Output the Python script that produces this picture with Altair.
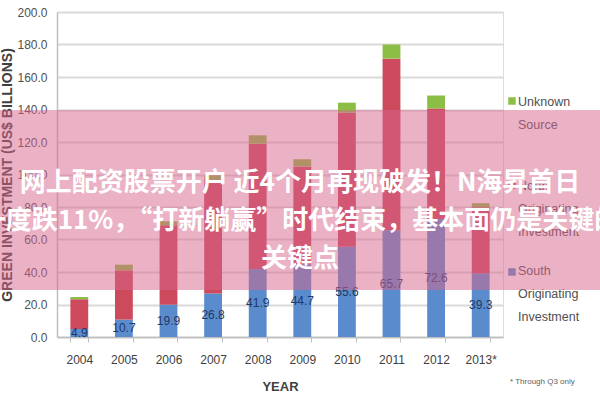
import altair as alt
import pandas as pd

years = ["2004", "2005", "2006", "2007", "2008", "2009", "2010", "2011", "2012", "2013*"]
south = [4.9, 10.7, 19.9, 26.8, 41.9, 44.7, 55.6, 65.7, 72.6, 39.3]
north = [18.3, 30.3, 48.8, 69.7, 77.1, 60.3, 82.4, 105.6, 68.0, 40.5]
unknown = [1.4, 3.5, 2.5, 3.0, 5.1, 4.4, 6.2, 8.7, 8.0, 2.5]

series = ["South Originating Investment", "North Originating Investment", "Unknown Source"]
colors = ["#5a8ccd", "#cc4a5c", "#8cbe46"]

y_ticks = [0, 20, 40, 60, 80, 100, 120, 140, 160, 180, 200]

banner_lines = [
    "网上配资股票开户 近4个月再现破发！N海昇首日",
    "一度跌11%，“打新躺赢”时代结束，基本面仍是关键的",
    "关键点",
]
footnote = "* Through Q3 only"

rows = []
for i, yr in enumerate(years):
    for k, (name, vals) in enumerate(zip(series, [south, north, unknown])):
        rows.append({"year": yr, "series": name, "value": vals[i], "ord": k})
df = pd.DataFrame(rows)
lab_df = pd.DataFrame({"year": years, "south": south})

FONT = "Liberation Sans"
W, H = 446, 325
PL, PT = 57, 12

xaxis = alt.Axis(
    title="YEAR", labelAngle=0, labelFont=FONT, labelFontSize=12,
    labelColor="#404040", labelPadding=12, tickBand="extent", tickSize=5,
    tickColor="#bfbfbf", domainColor="#bfbfbf", domainWidth=1.5,
    titleFont=FONT, titleFontSize=13, titleFontWeight="bold",
    titleColor="#404040", titleY=49, titleBaseline="middle",
)
yaxis = alt.Axis(
    title="GREEN INVESTMENT (US$ BILLIONS)", values=y_ticks, tickCount=20, format=".1f",
    labelFont=FONT, labelFontSize=12, labelColor="#505050", labelPadding=10,
    labelOverlap=False, ticks=False, gridColor="#d9d9d9", gridWidth=2,
    domainColor="#bfbfbf", domainWidth=1.5, titleFont=FONT, titleFontSize=14,
    titleFontWeight="bold", titleColor="#404040", titleX=-43,
)
xscale = alt.Scale(paddingInner=0.6, paddingOuter=0.3)
yscale = alt.Scale(domain=[0, 200], nice=False)

bars = alt.Chart(df).mark_bar().encode(
    x=alt.X("year:N", sort=years, scale=xscale, axis=xaxis),
    y=alt.Y("value:Q", stack="zero", scale=yscale, axis=yaxis),
    color=alt.Color("series:N", scale=alt.Scale(domain=series, range=colors), legend=None),
    order=alt.Order("ord:Q"),
)

labels = alt.Chart(lab_df).transform_calculate(mid="datum.south / 2").mark_text(
    font=FONT, fontSize=12, color="#1f3864", baseline="middle"
).encode(
    x=alt.X("year:N", sort=years, scale=xscale, axis=xaxis),
    y=alt.Y("mid:Q", scale=yscale, axis=yaxis),
    text=alt.Text("south:Q", format=".1f"),
)

one = pd.DataFrame({"a": [0]})


def txt(text, x, y, **kw):
    return alt.Chart(one).mark_text(**kw).encode(
        x=alt.value(x), y=alt.value(y), text=alt.value(text)
    )


def sq(color, x, y):
    return alt.Chart(one).mark_square(size=56, opacity=1, color=color).encode(
        x=alt.value(x), y=alt.value(y)
    )


legend_y_sq = [101 - PT, 185 - PT, 272 - PT]
legend_y_tx = [96 - PT, 180 - PT, 265 - PT]
legend_names = ["Unknown Source", "North Originating Investment", "South Originating Investment"]
legend_cols = [colors[2], colors[1], colors[0]]

legend_layers = []
for name, c, ys, yt in zip(legend_names, legend_cols, legend_y_sq, legend_y_tx):
    legend_layers.append(sq(c, 512 - PL, ys))
    legend_layers.append(
        txt(name, 518 - PL, yt, align="left", baseline="top", font=FONT,
            fontSize=12.5, color="#505050", lineBreak=" ", lineHeight=23)
    )

foot = txt(footnote, 510 - PL, 382 - PT, align="left", baseline="middle",
           font=FONT, fontSize=8, color="#606060")

overlay = alt.Chart(one).mark_rect(color="#d7648c", opacity=0.5).encode(
    x=alt.value(-PL), x2=alt.value(600 - PL), y=alt.value(110 - PT), y2=alt.value(290 - PT)
)

banner = [
    txt(line, 300 - PL, yy - PT, align="center", baseline="middle",
        font="Noto Sans CJK SC", fontSize=26, fontWeight="bold", color="#ffffff")
    for line, yy in zip(banner_lines, [183, 221, 259])
]

chart = alt.layer(bars, labels, *legend_layers, foot, overlay, *banner).properties(
    width=W, height=H,
    autosize=alt.AutoSizeParams(type="none"),
    padding={"left": PL, "top": PT, "right": 600 - PL - W, "bottom": 400 - PT - H},
).configure_view(stroke=None).configure(background="#ffffff")

chart.save("out.html", embed_options={"renderer": "svg", "actions": False})
